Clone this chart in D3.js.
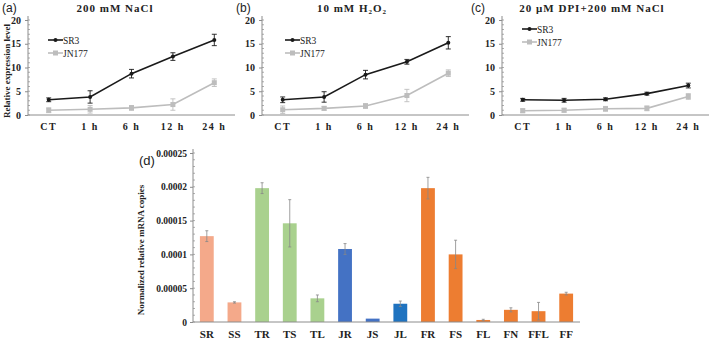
<!DOCTYPE html>
<html><head><meta charset="utf-8">
<script src="https://cdn.jsdelivr.net/npm/d3@7"></script>
<style>body{margin:0;background:#fff}svg{display:block}</style>
</head><body>
<svg id="c" width="709" height="339"></svg>
<script>
const timePoints = ["CT","1 h","6 h","12 h","24 h"];
const seriesNames = ["SR3","JN177"];
const yTicksLine = [0,5,10,15,20];
// panel a: 200 mM NaCl
const aSR3 = [3.2,3.8,8.7,12.3,15.8];
const aSR3err = [0.4,1.3,0.9,0.8,1.2];
const aJN = [1.0,1.2,1.5,2.2,6.8];
const aJNerr = [0.5,0.8,0.5,1.2,0.8];
// panel b: 10 mM H2O2
const bSR3 = [3.2,3.8,8.5,11.2,15.2];
const bSR3err = [0.6,1.1,0.9,0.5,1.3];
const bJN = [1.1,1.4,1.9,4.1,8.8];
const bJNerr = [0.8,0.4,0.5,1.3,0.7];
// panel c: 20 uM DPI + 200 mM NaCl
const cSR3 = [3.2,3.1,3.3,4.5,6.2];
const cSR3err = [0.3,0.4,0.3,0.3,0.5];
const cJN = [0.9,1.0,1.3,1.4,3.9];
const cJNerr = [0.4,0.4,0.5,0.5,0.6];
// panel d
const tissues = ["SR","SS","TR","TS","TL","JR","JS","JL","FR","FS","FL","FN","FFL","FF"];
const tissueValues = [0.000127,0.000029,0.000198,0.000146,0.000035,0.000108,0.000005,0.000027,0.000198,0.0001,0.000003,0.000018,0.000016,0.000042];
const tissueErr = [0.000008,0.000001,0.000008,0.000035,0.000005,0.000008,0,0.000004,0.000016,0.000021,0.000001,0.000003,0.000013,0.000002];
const tissueColors = ["#F4A98A","#F4A98A","#A9D18E","#A9D18E","#A9D18E","#4472C4","#4472C4","#1F73C0","#ED7D31","#ED7D31","#ED7D31","#ED7D31","#ED7D31","#ED7D31"];
const yTicksBar = [0,0.00005,0.0001,0.00015,0.0002,0.00025];
const yTickLabelsBar = ["0","0.00005","0.0001","0.00015","0.0002","0.00025"];

const svg = d3.select("#c");
const serif = "'Liberation Serif','Times New Roman',serif";
const sans = "'Liberation Sans',Arial,sans-serif";
const axisCol = "#8c8c8c";

const panels = [
  {x0:28, label:"(a)", lx:2, title:"200 mM NaCl", tx:115, sr:aSR3, sre:aSR3err, jn:aJN, jne:aJNerr, leg:[48,40], ylab:true},
  {x0:262, label:"(b)", lx:236, title:null, tx:352, sr:bSR3, sre:bSR3err, jn:bJN, jne:bJNerr, leg:[285,40]},
  {x0:502, label:"(c)", lx:471, title:"20 μM DPI+200 mM NaCl", tx:592, sr:cSR3, sre:cSR3err, jn:cJN, jne:cJNerr, leg:[522,29]}
];

const y = d3.scaleLinear().domain([0,20]).range([115,20]);

panels.forEach((p,i)=>{
  const g = svg.append("g");
  const x = d3.scaleBand().domain(timePoints).range([p.x0, p.x0+207]);
  const cx = d => x(d)+x.bandwidth()/2;
  // panel label
  g.append("text").attr("x",p.lx).attr("y",12).attr("font-family",sans).attr("font-size",12).attr("fill","#222").text(p.label);
  // title
  const t = g.append("text").attr("x",p.tx).attr("y",12).attr("text-anchor","middle").attr("font-family",serif)
    .attr("font-weight","bold").attr("font-size",11).attr("letter-spacing","1").attr("fill","#222");
  if (p.title) t.text(p.title);
  else { t.append("tspan").text("10 mM H"); t.append("tspan").attr("font-size",7).attr("dy",2).text("2");
         t.append("tspan").attr("dy",-2).text("O"); t.append("tspan").attr("font-size",7).attr("dy",2).text("2"); }
  // minor ticks
  g.selectAll(".mt").data(d3.range(0,21,1)).join("line").attr("x1",p.x0).attr("x2",p.x0+2)
    .attr("y1",d=>y(d)).attr("y2",d=>y(d)).attr("stroke",axisCol).attr("stroke-width",0.7);
  // y axis
  const ya = g.append("g").attr("transform",`translate(${p.x0},0)`).call(d3.axisLeft(y).tickValues(yTicksLine).tickSize(3).tickPadding(4));
  ya.select(".domain").attr("stroke",axisCol).attr("d",`M0,${y(20)-4}V${y(0)}`);
  ya.selectAll(".tick line").attr("stroke",axisCol);
  ya.selectAll("text").attr("font-family",serif).attr("font-weight","bold").attr("font-size",10).attr("fill","#222");
  // x axis
  const xa = g.append("g").attr("transform",`translate(0,${y(0)})`).call(d3.axisBottom(x).tickSize(0).tickPadding(8));
  xa.select(".domain").attr("stroke",axisCol).attr("d",`M${p.x0},0H${p.x0+207}`);
  xa.selectAll("text").attr("font-family",serif).attr("font-weight","bold").attr("font-size",10).attr("letter-spacing","1.5").attr("fill","#222");
  if (p.ylab) {
    g.append("text").attr("transform",`translate(10,71) rotate(-90)`).attr("text-anchor","middle")
      .attr("font-family",serif).attr("font-weight","bold").attr("font-size",9).attr("fill","#222").text("Relative expression level");
  }
  const series = [
    {v:p.jn, e:p.jne, col:"#bdbdbd", sq:true},
    {v:p.sr, e:p.sre, col:"#1a1a1a", sq:false}
  ];
  series.forEach(s=>{
    const pts = timePoints.map((d,k)=>({x:cx(d), v:s.v[k], e:s.e[k]}));
    g.append("path").datum(pts).attr("fill","none").attr("stroke",s.col).attr("stroke-width",1.6)
      .attr("d", d3.line().x(d=>d.x).y(d=>y(d.v)));
    const eb = g.append("g");
    pts.forEach(d=>{
      eb.append("line").attr("x1",d.x).attr("x2",d.x).attr("y1",y(d.v-d.e)).attr("y2",y(d.v+d.e)).attr("stroke",s.col).attr("stroke-width",0.9);
      [d.v-d.e,d.v+d.e].forEach(vv=>eb.append("line").attr("x1",d.x-2.5).attr("x2",d.x+2.5).attr("y1",y(vv)).attr("y2",y(vv)).attr("stroke",s.col).attr("stroke-width",0.9));
      if (s.sq) eb.append("rect").attr("x",d.x-2.5).attr("y",y(d.v)-2.5).attr("width",5).attr("height",5).attr("fill",s.col);
      else eb.append("circle").attr("cx",d.x).attr("cy",y(d.v)).attr("r",2).attr("fill",s.col);
    });
  });
  // legend
  seriesNames.forEach((n,k)=>{
    const col = k===0 ? "#1a1a1a" : "#bdbdbd";
    const ly = p.leg[1] + k*13;
    g.append("line").attr("x1",p.leg[0]).attr("x2",p.leg[0]+15).attr("y1",ly).attr("y2",ly).attr("stroke",col).attr("stroke-width",1.6);
    if (k===0) g.append("circle").attr("cx",p.leg[0]+7.5).attr("cy",ly).attr("r",2).attr("fill",col);
    else g.append("rect").attr("x",p.leg[0]+5).attr("y",ly-2.5).attr("width",5).attr("height",5).attr("fill",col);
    g.append("text").attr("x",p.leg[0]+15).attr("y",ly+3.5).attr("font-family",serif).attr("font-size",9.5).attr("fill","#222").text(n);
  });
});

// Panel d
const gd = svg.append("g");
const xb = d3.scaleBand().domain(tissues).range([193,580]).paddingInner(0.5).paddingOuter(0.25);
const yb = d3.scaleLinear().domain([0,0.00025]).range([322,153]);
gd.append("text").attr("x",139).attr("y",165).attr("font-family",sans).attr("font-size",13).attr("fill","#222").text("(d)");
gd.selectAll(".mt").data(d3.range(0,0.000251,0.00001)).join("line").attr("x1",193).attr("x2",195)
  .attr("y1",d=>yb(d)).attr("y2",d=>yb(d)).attr("stroke",axisCol).attr("stroke-width",0.7);
const yab = gd.append("g").attr("transform","translate(193,0)").call(d3.axisLeft(yb).tickValues(yTicksBar).tickFormat((d,i)=>yTickLabelsBar[i]).tickSize(3).tickPadding(3));
yab.select(".domain").attr("stroke",axisCol).attr("d",`M0,${yb(0.00025)-4}V${yb(0)}`);
yab.selectAll(".tick line").attr("stroke",axisCol);
yab.selectAll("text").attr("font-family",serif).attr("font-weight","bold").attr("font-size",9.5).attr("fill","#222");
gd.selectAll(".bar").data(tissues).join("rect")
  .attr("x",d=>xb(d)).attr("width",xb.bandwidth())
  .attr("y",(d,i)=>yb(tissueValues[i])).attr("height",(d,i)=>yb(0)-yb(tissueValues[i]))
  .attr("fill",(d,i)=>tissueColors[i]);
tissues.forEach((d,i)=>{
  if (!tissueErr[i]) return;
  const cx = xb(d)+xb.bandwidth()/2;
  const lo = tissueValues[i]-tissueErr[i], hi = tissueValues[i]+tissueErr[i];
  gd.append("line").attr("x1",cx).attr("x2",cx).attr("y1",yb(lo)).attr("y2",yb(hi)).attr("stroke","#888").attr("stroke-width",0.8);
  [lo,hi].forEach(v=>gd.append("line").attr("x1",cx-1.5).attr("x2",cx+1.5).attr("y1",yb(v)).attr("y2",yb(v)).attr("stroke","#888").attr("stroke-width",0.8));
});
const xab = gd.append("g").attr("transform","translate(0,322)").call(d3.axisBottom(xb).tickSize(0).tickPadding(8));
xab.select(".domain").attr("stroke",axisCol).attr("d","M193,0H580");
xab.selectAll("text").attr("font-family",serif).attr("font-weight","bold").attr("font-size",11).attr("fill","#222");
gd.append("text").attr("transform","translate(144,250) rotate(-90)").attr("text-anchor","middle")
  .attr("font-family",serif).attr("font-weight","bold").attr("font-size",9).attr("fill","#222").text("Normalized relative mRNA copies");
</script>
</body></html>
